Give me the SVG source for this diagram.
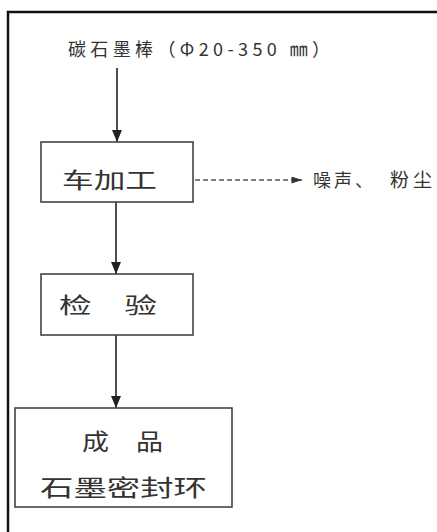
<svg xmlns="http://www.w3.org/2000/svg" width="437" height="532" viewBox="0 0 437 532">
<style>
.box{fill:#fff;stroke:#444;stroke-width:1.6}
.t{font-family:"Noto Sans CJK SC","Noto Sans CJK JP",sans-serif;fill:#333}
.ln{stroke:#222;stroke-width:1.6;fill:none}
.dash{stroke:#555;stroke-width:1.5;stroke-dasharray:5 3;fill:none}
</style>
<defs>
<marker id="ah" viewBox="0 0 12 10" refX="12" refY="5" markerWidth="12" markerHeight="10" markerUnits="userSpaceOnUse" orient="auto">
<path d="M0,0 L12,5 L0,10 Z" fill="#222"/>
</marker>
<marker id="ahs" viewBox="0 0 12 8" refX="12" refY="4" markerWidth="12" markerHeight="7" markerUnits="userSpaceOnUse" orient="auto">
<path d="M0,0 L12,4 L0,8 Z" fill="#333"/>
</marker>
</defs>
<rect width="437" height="532" fill="#fff"/>
<path d="M437,12 H8 V532" fill="none" stroke="#111" stroke-width="2.5"/>
<g id="input">
<text class="t" x="68" y="56" font-size="18" textLength="262" lengthAdjust="spacing">碳石墨棒（Φ20-350 ㎜）</text>
</g>
<g id="connectors">
<line class="ln" x1="117" y1="68" x2="117" y2="142" marker-end="url(#ah)"/>
<line class="ln" x1="116" y1="202" x2="116" y2="274" marker-end="url(#ah)"/>
<line class="ln" x1="116" y1="335" x2="116" y2="408" marker-end="url(#ah)"/>
<line class="dash" x1="195" y1="180" x2="302" y2="180" marker-end="url(#ahs)"/>
</g>
<g id="node-turning">
<rect class="box" x="41" y="142" width="152" height="60"/>
<text class="t" x="62" y="188" font-size="22" textLength="95" lengthAdjust="spacingAndGlyphs">车加工</text>
</g>
<g id="output-noise">
<text class="t" x="313" y="187" font-size="18" textLength="60" lengthAdjust="spacing">噪声、</text>
<text class="t" x="390" y="187" font-size="19" letter-spacing="4">粉尘</text>
</g>
<g id="node-inspect">
<rect class="box" x="41" y="274" width="152" height="61"/>
<text class="t" x="59" y="313" font-size="22" textLength="98" lengthAdjust="spacingAndGlyphs">检　验</text>
</g>
<g id="node-product">
<rect class="box" x="15" y="408" width="217" height="99"/>
<text class="t" x="82" y="450" font-size="23" textLength="81" lengthAdjust="spacingAndGlyphs">成　品</text>
<text class="t" x="40" y="496" font-size="23" textLength="167" lengthAdjust="spacingAndGlyphs">石墨密封环</text>
</g>
</svg>
